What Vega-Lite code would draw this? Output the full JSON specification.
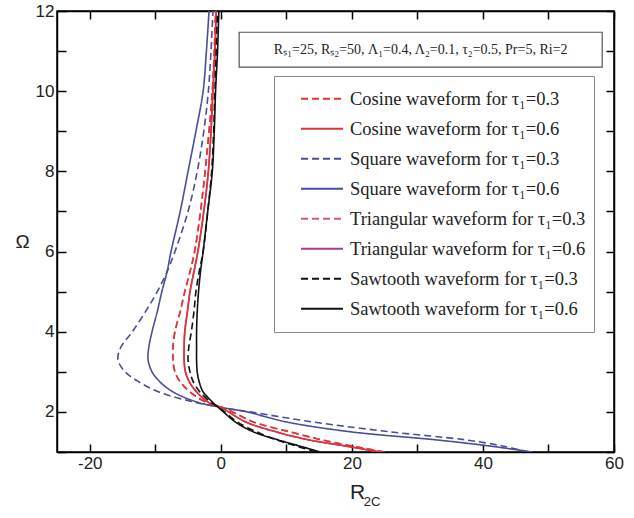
{
"$schema": "https://vega.github.io/schema/vega-lite/v6.json",
"autosize": {"type": "none"},
"width": 557, "height": 441,
"padding": {"left": 57, "top": 11, "right": 20, "bottom": 66},
"background": "white",
"datasets": {"curves": [
{"s":"T3","w":1,"r":25},{"s":"T3","w":1.15,"r":20},{"s":"T3","w":1.3,"r":15.5},{"s":"T3","w":1.5,"r":10.6},{"s":"T3","w":1.75,"r":5},{"s":"T3","w":2,"r":1.8},{"s":"T3","w":2.1,"r":0.3},{"s":"T3","w":2.25,"r":-2.4},{"s":"T3","w":2.5,"r":-4.7},{"s":"T3","w":2.75,"r":-6.2},{"s":"T3","w":3,"r":-7},{"s":"T3","w":3.3,"r":-7.3},{"s":"T3","w":3.6,"r":-7.3},{"s":"T3","w":4,"r":-7},{"s":"T3","w":4.5,"r":-6.2},{"s":"T3","w":5,"r":-5.5},{"s":"T3","w":5.5,"r":-4.7},{"s":"T3","w":6,"r":-4},{"s":"T3","w":7,"r":-3.1},{"s":"T3","w":8,"r":-2.4},{"s":"T3","w":9,"r":-1.8},{"s":"T3","w":10,"r":-1.3},{"s":"T3","w":11,"r":-1},{"s":"T3","w":12,"r":-0.8},
{"s":"T6","w":1,"r":24.3},{"s":"T6","w":1.15,"r":19},{"s":"T6","w":1.3,"r":13.5},{"s":"T6","w":1.5,"r":8.5},{"s":"T6","w":1.75,"r":3.8},{"s":"T6","w":2,"r":1.2},{"s":"T6","w":2.1,"r":0.2},{"s":"T6","w":2.25,"r":-2},{"s":"T6","w":2.5,"r":-3.7},{"s":"T6","w":2.75,"r":-4.8},{"s":"T6","w":3,"r":-5.4},{"s":"T6","w":3.3,"r":-5.6},{"s":"T6","w":3.6,"r":-5.6},{"s":"T6","w":4,"r":-5.5},{"s":"T6","w":4.5,"r":-5.1},{"s":"T6","w":5,"r":-4.7},{"s":"T6","w":5.5,"r":-4.1},{"s":"T6","w":6,"r":-3.5},{"s":"T6","w":7,"r":-2.6},{"s":"T6","w":8,"r":-1.9},{"s":"T6","w":9,"r":-1.5},{"s":"T6","w":10,"r":-1.2},{"s":"T6","w":11,"r":-0.9},{"s":"T6","w":12,"r":-0.7},
{"s":"S3","w":1,"r":47},{"s":"S3","w":1.15,"r":43},{"s":"S3","w":1.3,"r":37.5},{"s":"S3","w":1.5,"r":26},{"s":"S3","w":1.75,"r":14},{"s":"S3","w":2,"r":4.5},{"s":"S3","w":2.1,"r":0.5},{"s":"S3","w":2.25,"r":-4.2},{"s":"S3","w":2.5,"r":-9.5},{"s":"S3","w":2.75,"r":-12.5},{"s":"S3","w":3,"r":-14.6},{"s":"S3","w":3.3,"r":-15.7},{"s":"S3","w":3.6,"r":-15.3},{"s":"S3","w":4,"r":-13.5},{"s":"S3","w":4.5,"r":-11.5},{"s":"S3","w":5,"r":-9.7},{"s":"S3","w":5.5,"r":-8.2},{"s":"S3","w":6,"r":-7},{"s":"S3","w":7,"r":-5},{"s":"S3","w":8,"r":-3.6},{"s":"S3","w":9,"r":-2.6},{"s":"S3","w":10,"r":-1.9},{"s":"S3","w":11,"r":-1.5},{"s":"S3","w":12,"r":-1.2},
{"s":"S6","w":1,"r":47.5},{"s":"S6","w":1.15,"r":41},{"s":"S6","w":1.3,"r":33},{"s":"S6","w":1.5,"r":20},{"s":"S6","w":1.75,"r":10},{"s":"S6","w":2,"r":4},{"s":"S6","w":2.1,"r":0.5},{"s":"S6","w":2.25,"r":-3.7},{"s":"S6","w":2.5,"r":-7.3},{"s":"S6","w":2.75,"r":-9.3},{"s":"S6","w":3,"r":-10.5},{"s":"S6","w":3.3,"r":-11.1},{"s":"S6","w":3.6,"r":-11},{"s":"S6","w":4,"r":-10.5},{"s":"S6","w":4.5,"r":-9.7},{"s":"S6","w":5,"r":-9},{"s":"S6","w":5.5,"r":-8.2},{"s":"S6","w":6,"r":-7.6},{"s":"S6","w":7,"r":-6.2},{"s":"S6","w":8,"r":-5},{"s":"S6","w":9,"r":-3.8},{"s":"S6","w":10,"r":-2.7},{"s":"S6","w":11,"r":-2.2},{"s":"S6","w":12,"r":-1.8},
{"s":"C3","w":1,"r":25},{"s":"C3","w":1.15,"r":20},{"s":"C3","w":1.3,"r":15.5},{"s":"C3","w":1.5,"r":10.6},{"s":"C3","w":1.75,"r":5},{"s":"C3","w":2,"r":1.8},{"s":"C3","w":2.1,"r":0.3},{"s":"C3","w":2.25,"r":-2.4},{"s":"C3","w":2.5,"r":-4.7},{"s":"C3","w":2.75,"r":-6.2},{"s":"C3","w":3,"r":-7},{"s":"C3","w":3.3,"r":-7.3},{"s":"C3","w":3.6,"r":-7.3},{"s":"C3","w":4,"r":-7},{"s":"C3","w":4.5,"r":-6.2},{"s":"C3","w":5,"r":-5.5},{"s":"C3","w":5.5,"r":-4.7},{"s":"C3","w":6,"r":-4},{"s":"C3","w":7,"r":-3.1},{"s":"C3","w":8,"r":-2.4},{"s":"C3","w":9,"r":-1.8},{"s":"C3","w":10,"r":-1.3},{"s":"C3","w":11,"r":-1},{"s":"C3","w":12,"r":-0.8},
{"s":"C6","w":1,"r":24.3},{"s":"C6","w":1.15,"r":19},{"s":"C6","w":1.3,"r":13.5},{"s":"C6","w":1.5,"r":8.5},{"s":"C6","w":1.75,"r":3.8},{"s":"C6","w":2,"r":1.2},{"s":"C6","w":2.1,"r":0.2},{"s":"C6","w":2.25,"r":-2},{"s":"C6","w":2.5,"r":-3.7},{"s":"C6","w":2.75,"r":-4.8},{"s":"C6","w":3,"r":-5.4},{"s":"C6","w":3.3,"r":-5.6},{"s":"C6","w":3.6,"r":-5.6},{"s":"C6","w":4,"r":-5.5},{"s":"C6","w":4.5,"r":-5.1},{"s":"C6","w":5,"r":-4.7},{"s":"C6","w":5.5,"r":-4.1},{"s":"C6","w":6,"r":-3.5},{"s":"C6","w":7,"r":-2.6},{"s":"C6","w":8,"r":-1.9},{"s":"C6","w":9,"r":-1.5},{"s":"C6","w":10,"r":-1.2},{"s":"C6","w":11,"r":-0.9},{"s":"C6","w":12,"r":-0.7},
{"s":"W3","w":1,"r":14.5},{"s":"W3","w":1.15,"r":11.5},{"s":"W3","w":1.3,"r":8.5},{"s":"W3","w":1.5,"r":5.5},{"s":"W3","w":1.75,"r":2.5},{"s":"W3","w":2,"r":0.6},{"s":"W3","w":2.1,"r":-0.2},{"s":"W3","w":2.25,"r":-1.6},{"s":"W3","w":2.5,"r":-3.2},{"s":"W3","w":2.75,"r":-4.2},{"s":"W3","w":3,"r":-4.7},{"s":"W3","w":3.3,"r":-5},{"s":"W3","w":3.6,"r":-4.9},{"s":"W3","w":4,"r":-4.5},{"s":"W3","w":4.5,"r":-4.1},{"s":"W3","w":5,"r":-3.8},{"s":"W3","w":5.5,"r":-3.3},{"s":"W3","w":6,"r":-2.7},{"s":"W3","w":7,"r":-2},{"s":"W3","w":8,"r":-1.4},{"s":"W3","w":9,"r":-1.1},{"s":"W3","w":10,"r":-0.9},{"s":"W3","w":11,"r":-0.7},{"s":"W3","w":12,"r":-0.5},
{"s":"W6","w":1,"r":15.2},{"s":"W6","w":1.15,"r":12},{"s":"W6","w":1.3,"r":8.8},{"s":"W6","w":1.5,"r":5},{"s":"W6","w":1.75,"r":2.2},{"s":"W6","w":2,"r":0.4},{"s":"W6","w":2.1,"r":-0.3},{"s":"W6","w":2.25,"r":-1.3},{"s":"W6","w":2.5,"r":-2.7},{"s":"W6","w":2.75,"r":-3.3},{"s":"W6","w":3,"r":-3.6},{"s":"W6","w":3.3,"r":-3.7},{"s":"W6","w":3.6,"r":-3.7},{"s":"W6","w":4,"r":-3.7},{"s":"W6","w":4.5,"r":-3.6},{"s":"W6","w":5,"r":-3.4},{"s":"W6","w":5.5,"r":-3.1},{"s":"W6","w":6,"r":-2.7},{"s":"W6","w":7,"r":-2},{"s":"W6","w":8,"r":-1.3},{"s":"W6","w":9,"r":-1},{"s":"W6","w":10,"r":-0.8},{"s":"W6","w":11,"r":-0.5},{"s":"W6","w":12,"r":-0.3}
]},
"resolve": {"axis": {"x": "independent", "y": "independent"}},
"layer": [
{
"data": {"name": "curves"},
"mark": {"type": "line", "strokeWidth": 1.6, "interpolate": "catmull-rom", "clip": true},
"encoding": {
"x": {"field": "r", "type": "quantitative", "scale": {"domain": [-25, 60], "nice": false, "zero": false},
 "axis": {"orient": "bottom", "values": [-20,-10,0,10,20,30,40,50,60], "labelExpr": "datum.value % 20 === 0 ? '' + datum.value : ''", "grid": false, "tickSize": -8, "tickColor": "black", "tickWidth": 1.5, "domainColor": "black", "domainWidth": 1.5, "labelFontSize": 17, "labelColor": "#222", "labelPadding": 11, "labelFlush": false, "title": "R", "titleFontSize": 21, "titleFontWeight": "normal", "titleColor": "#222", "titleX": 300, "titleY": 46, "titleBaseline": "alphabetic", "titleAlign": "center", "titleAnchor": null}},
"y": {"field": "w", "type": "quantitative", "scale": {"domain": [1, 12], "nice": false, "zero": false},
 "axis": {"orient": "left", "values": [1,2,3,4,5,6,7,8,9,10,11,12], "labelExpr": "datum.value % 2 === 0 ? datum.label : ''", "grid": false, "tickSize": -9, "tickColor": "black", "tickWidth": 1.5, "domainColor": "black", "domainWidth": 1.5, "labelFontSize": 17, "labelColor": "#222", "labelPadding": 12, "labelFlush": false, "title": "Ω", "titleAngle": 0, "titleFontSize": 19, "titleFontWeight": "normal", "titleColor": "#222", "titleX": -35, "titleY": 230, "titleAlign": "center", "titleBaseline": "middle"}},
"color": {"field": "s", "type": "nominal",
 "scale": {"domain": ["C3","C6","S3","S6","T3","T6","W3","W6"], "range": ["#e8312f","#e8312f","#4a4d9a","#4a4d9a","#d0558a","#a0409a","#111111","#111111"]},
 "legend": {"title": null, "labelExpr": "{'C3':'Cosine waveform for τ₁=0.3','C6':'Cosine waveform for τ₁=0.6','S3':'Square waveform for τ₁=0.3','S6':'Square waveform for τ₁=0.6','T3':'Triangular waveform for τ₁=0.3','T6':'Triangular waveform for τ₁=0.6','W3':'Sawtooth waveform for τ₁=0.3','W6':'Sawtooth waveform for τ₁=0.6'}[datum.label]"}},
"strokeDash": {"field": "s", "type": "nominal",
 "scale": {"domain": ["C3","C6","S3","S6","T3","T6","W3","W6"], "range": [[7,4],[1,0],[7,4],[1,0],[7,4],[1,0],[7,4],[1,0]]},
 "legend": {"title": null, "labelExpr": "{'C3':'Cosine waveform for τ₁=0.3','C6':'Cosine waveform for τ₁=0.6','S3':'Square waveform for τ₁=0.3','S6':'Square waveform for τ₁=0.6','T3':'Triangular waveform for τ₁=0.3','T6':'Triangular waveform for τ₁=0.6','W3':'Sawtooth waveform for τ₁=0.3','W6':'Sawtooth waveform for τ₁=0.6'}[datum.label]"}},
"order": {"field": "w", "type": "quantitative"}
}
},
{
"data": {"values": [{}]},
"mark": {"type": "rect", "fill": "white", "stroke": "#555", "strokeWidth": 1.2},
"encoding": {
"x": {"datum": 2.8, "type": "quantitative", "axis": {"orient": "top", "values": [-20,-10,0,10,20,30,40,50,60], "labels": false, "grid": false, "tickSize": -8, "tickColor": "black", "tickWidth": 1.5, "domainColor": "black", "domainWidth": 1.5, "title": null}},
"x2": {"datum": 58.2},
"y": {"datum": 10.6, "type": "quantitative", "axis": {"orient": "right", "values": [1,2,3,4,5,6,7,8,9,10,11,12], "labels": false, "grid": false, "tickSize": -8, "tickColor": "black", "tickWidth": 1.5, "domainColor": "black", "domainWidth": 1.5, "title": null}},
"y2": {"datum": 11.47}
}
},
{
"data": {"values": [{}]},
"mark": {"type": "text", "font": "Liberation Serif", "fontSize": 14, "color": "#222", "align": "center", "baseline": "middle"},
"encoding": {
"x": {"datum": 30.5, "type": "quantitative", "axis": null},
"y": {"datum": 11.03, "type": "quantitative", "axis": null},
"text": {"value": "Rₛ₁=25, Rₛ₂=50, Λ₁=0.4, Λ₂=0.1, τ₂=0.5, Pr=5, Ri=2"}
}
},
{
"data": {"values": [{}]},
"mark": {"type": "text", "font": "Liberation Sans", "fontSize": 13, "color": "#222", "align": "left", "baseline": "alphabetic", "clip": false},
"encoding": {
"x": {"datum": 21.8, "type": "quantitative", "axis": null},
"y": {"datum": -0.35, "type": "quantitative", "axis": null},
"text": {"value": "2C"}
}
}
],
"config": {
"font": "Liberation Sans",
"view": {"stroke": "black", "strokeWidth": 1.5},
"legend": {"orient": "none", "legendX": 217, "legendY": 65, "fillColor": "white", "strokeColor": "#888", "padding": 8, "symbolType": "stroke", "symbolSize": 1764, "symbolOffset": 18, "symbolStrokeWidth": 1.8, "clipHeight": 29.5, "rowPadding": 0, "labelFont": "Liberation Serif", "labelFontSize": 18.5, "labelColor": "#222", "labelOffset": 6, "labelLimit": 400}
}
}
